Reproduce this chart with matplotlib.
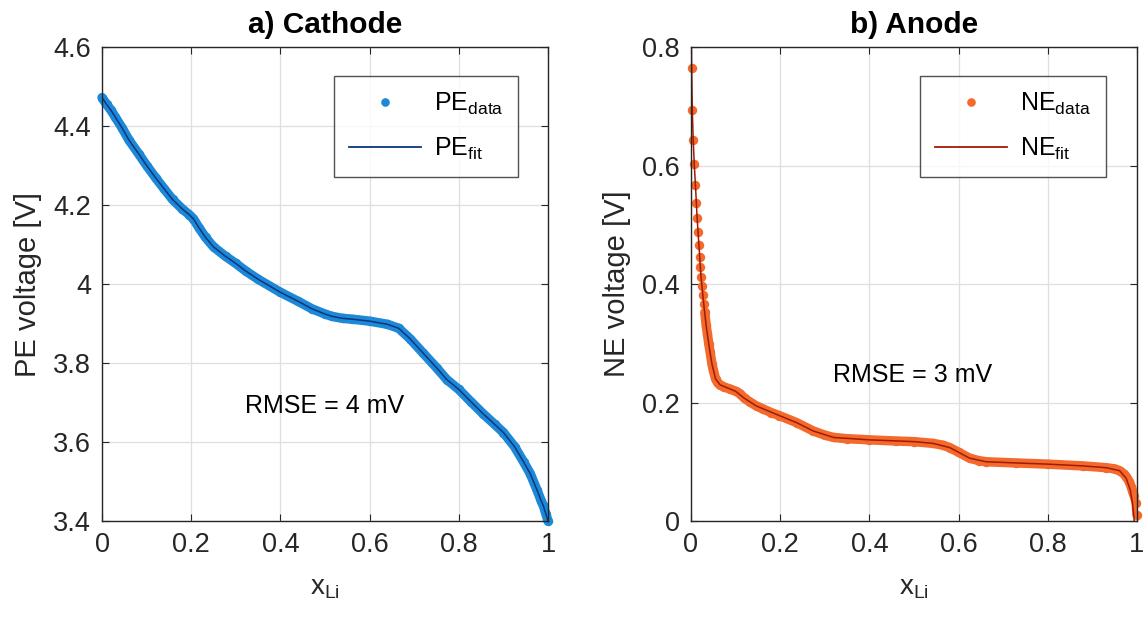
import matplotlib
matplotlib.use('Agg')
import matplotlib.pyplot as plt
from matplotlib.lines import Line2D

plt.rcParams['font.family'] = ['Liberation Sans', 'DejaVu Sans']
plt.rcParams['mathtext.default'] = 'regular'

# Cathode (positive electrode) data
pe_x = [0.000, 0.010, 0.020, 0.030, 0.045, 0.060, 0.083, 0.100, 0.120, 0.140,
        0.158, 0.180, 0.195, 0.205, 0.217, 0.232, 0.250, 0.277, 0.300, 0.322,
        0.350, 0.400, 0.440, 0.471, 0.500, 0.516, 0.540, 0.561, 0.600, 0.640,
        0.665, 0.690, 0.720, 0.750, 0.773, 0.800, 0.827, 0.854, 0.880, 0.900,
        0.925, 0.945, 0.960, 0.975, 0.985, 0.990, 0.995, 1.000]
pe_v = [4.472, 4.455, 4.440, 4.422, 4.395, 4.365, 4.328, 4.300, 4.269, 4.240,
        4.214, 4.190, 4.176, 4.165, 4.143, 4.118, 4.094, 4.070, 4.052, 4.033,
        4.012, 3.979, 3.956, 3.937, 3.924, 3.918, 3.913, 3.911, 3.906, 3.898,
        3.888, 3.862, 3.825, 3.788, 3.758, 3.733, 3.702, 3.672, 3.645, 3.624,
        3.588, 3.550, 3.520, 3.479, 3.450, 3.437, 3.418, 3.400]

# Anode (negative electrode) data
ne_x = [0.0015, 0.003, 0.005, 0.0074, 0.0100, 0.0120, 0.0138, 0.0157, 0.0178,
        0.0195, 0.0210, 0.0225, 0.0245, 0.0265, 0.0285, 0.031, 0.034, 0.037,
        0.040, 0.043, 0.047, 0.050, 0.055, 0.060, 0.065, 0.075, 0.087, 0.100,
        0.110, 0.120, 0.132, 0.147, 0.162, 0.180, 0.198, 0.237, 0.274, 0.300,
        0.320, 0.349, 0.400, 0.460, 0.500, 0.543, 0.565, 0.580, 0.600, 0.625,
        0.645, 0.662, 0.729, 0.800, 0.879, 0.931, 0.950, 0.961, 0.970, 0.976,
        0.983, 0.987, 0.991, 0.994, 0.998, 1.000]
ne_v = [0.765, 0.693, 0.643, 0.602, 0.567, 0.537, 0.511, 0.488, 0.466,
        0.446, 0.429, 0.412, 0.397, 0.381, 0.367, 0.352, 0.330, 0.315,
        0.298, 0.285, 0.265, 0.255, 0.240, 0.233, 0.230, 0.226, 0.223, 0.219,
        0.215, 0.207, 0.201, 0.194, 0.189, 0.183, 0.178, 0.166, 0.152, 0.145,
        0.141, 0.139, 0.137, 0.135, 0.134, 0.131, 0.128, 0.124, 0.116, 0.106,
        0.102, 0.100, 0.098, 0.096, 0.093, 0.090, 0.088, 0.085, 0.080, 0.075,
        0.066, 0.058, 0.048, 0.042, 0.031, 0.010]

# Anode fit
ne_fit_x = [0.0, 0.0015, 0.003, 0.005, 0.0074, 0.010, 0.0138, 0.0178, 0.0225,
            0.0285, 0.034, 0.040, 0.047, 0.055, 0.065, 0.087, 0.100, 0.120,
            0.147, 0.198, 0.237, 0.274, 0.320, 0.400, 0.500, 0.543, 0.580,
            0.625, 0.662, 0.729, 0.800, 0.879, 0.931, 0.961, 0.976, 0.985,
            0.990, 0.994]
ne_fit_v = [0.86, 0.765, 0.693, 0.643, 0.602, 0.567, 0.511, 0.466, 0.412,
            0.367, 0.330, 0.298, 0.265, 0.240, 0.230, 0.223, 0.219, 0.207,
            0.194, 0.178, 0.166, 0.152, 0.141, 0.137, 0.134, 0.131, 0.124,
            0.106, 0.100, 0.098, 0.096, 0.093, 0.090, 0.085, 0.072, 0.052,
            0.030, 0.0]
ne_band_start = 15  # data points merge into a band from here on

x_ticks = [0, 0.2, 0.4, 0.6, 0.8, 1.0]
x_labels = ['0', '0.2', '0.4', '0.6', '0.8', '1']
pe_ticks = [3.4, 3.6, 3.8, 4.0, 4.2, 4.4, 4.6]
pe_labels = ['3.4', '3.6', '3.8', '4', '4.2', '4.4', '4.6']
ne_ticks = [0, 0.2, 0.4, 0.6, 0.8]
ne_labels = ['0', '0.2', '0.4', '0.6', '0.8']

PE_DATA = '#1c88d6'
PE_FIT = '#0b3580'
NE_DATA = '#f4692c'
NE_FIT = '#a01b04'
AX_COLOR = '#262626'
BAND_W = 6.8
DOT_MS = 6.8
FIT_W = 1.1


def style_axes(ax, yticks, ylabels):
    ax.set_xlim(0, 1)
    ax.set_xticks(x_ticks)
    ax.set_xticklabels(x_labels)
    ax.set_yticks(yticks)
    ax.set_yticklabels(ylabels)
    ax.set_ylim(yticks[0], yticks[-1])
    ax.grid(True, color='#dfdfdf', linewidth=0.9)
    ax.set_axisbelow(True)
    ax.tick_params(direction='in', top=True, right=True, length=5,
                   width=0.8, color=AX_COLOR, labelcolor=AX_COLOR,
                   labelsize=19.5, pad=8)
    for s in ax.spines.values():
        s.set_color(AX_COLOR)
        s.set_linewidth(1.0)
    ax.set_xlabel('x$_{Li}$', fontsize=20, color=AX_COLOR, labelpad=12)


def add_legend(ax, data_color, fit_color, name, anchor):
    handles = [
        Line2D([], [], linestyle='none', marker='o', markersize=6.2,
               markeredgewidth=0, color=data_color, label=name + '$_{data}$'),
        Line2D([], [], color=fit_color, linewidth=1.3, label=name + '$_{fit}$'),
    ]
    leg = ax.legend(handles=handles, loc='upper right', bbox_to_anchor=anchor,
                    fontsize=18, frameon=True, fancybox=False,
                    handlelength=2.9, handletextpad=0.5, labelspacing=0.75,
                    borderpad=0.6, borderaxespad=0)
    leg.get_frame().set_edgecolor(AX_COLOR)
    leg.get_frame().set_linewidth(1.0)


fig = plt.figure(figsize=(11.48, 6.23), dpi=100)
ax1 = fig.add_axes([0.0889, 0.1637, 0.3885, 0.7608])
ax2 = fig.add_axes([0.6019, 0.1637, 0.3885, 0.7608])

# a) Cathode
ax1.plot(pe_x, pe_v, color=PE_DATA, linewidth=BAND_W, solid_capstyle='round',
         solid_joinstyle='round', clip_on=False)
ax1.plot(pe_x, pe_v, linestyle='none', marker='o', markersize=DOT_MS,
         markeredgewidth=0, color=PE_DATA, clip_on=False)
ax1.plot(pe_x, pe_v, color=PE_FIT, linewidth=FIT_W)
style_axes(ax1, pe_ticks, pe_labels)
ax1.set_ylabel('PE voltage [V]', fontsize=21, color=AX_COLOR, labelpad=8)
ax1.set_title('a) Cathode', fontsize=21.5, fontweight='bold', pad=10)
ax1.text(0.5, 3.692, 'RMSE = 4 mV', fontsize=18, ha='center', va='center')
add_legend(ax1, PE_DATA, PE_FIT, 'PE', (0.933, 0.939))

# b) Anode
ax2.plot(ne_x[ne_band_start:], ne_v[ne_band_start:], color=NE_DATA,
         linewidth=BAND_W, solid_capstyle='round', solid_joinstyle='round')
ax2.plot(ne_x, ne_v, linestyle='none', marker='o', markersize=DOT_MS,
         markeredgewidth=0, color=NE_DATA, clip_on=False)
ax2.plot(ne_fit_x, ne_fit_v, color=NE_FIT, linewidth=FIT_W)
style_axes(ax2, ne_ticks, ne_labels)
ax2.set_ylabel('NE voltage [V]', fontsize=21, color=AX_COLOR, labelpad=8)
ax2.set_title('b) Anode', fontsize=21.5, fontweight='bold', pad=10)
ax2.text(0.497, 0.246, 'RMSE = 3 mV', fontsize=18, ha='center', va='center')
add_legend(ax2, NE_DATA, NE_FIT, 'NE', (0.930, 0.939))

fig.savefig('out.png', dpi=100)
